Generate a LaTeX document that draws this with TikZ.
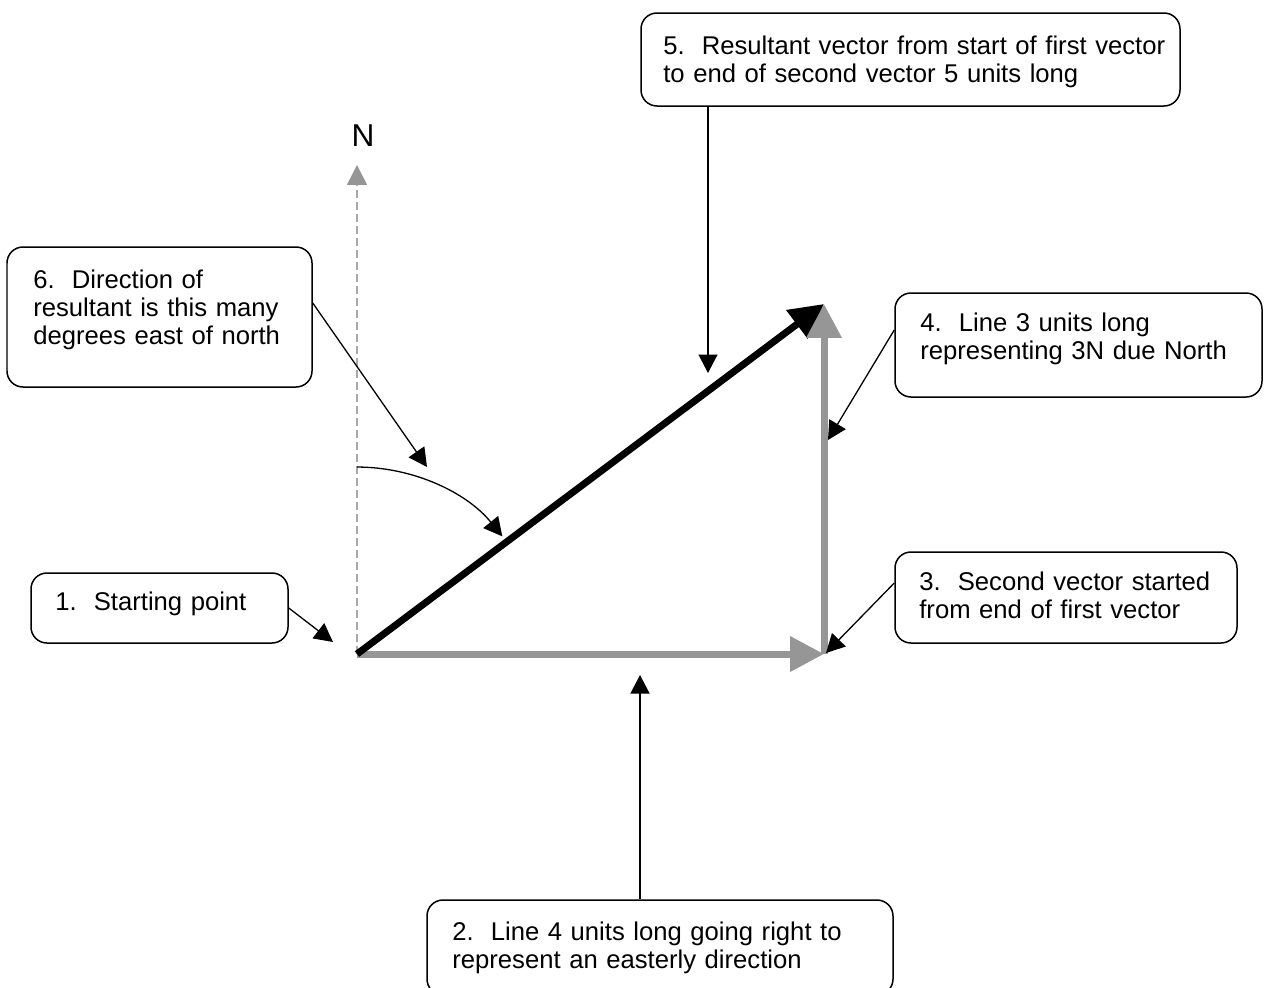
\documentclass[tikz,border=0pt]{standalone}
\usepackage{fontspec}
\setmainfont{Liberation Sans}
\usetikzlibrary{arrows.meta,fit}
\definecolor{vecgray}{RGB}{150,150,150}
\definecolor{axisgray}{RGB}{168,168,168}

\begin{document}
\begin{tikzpicture}[x=0.02cm,y=-0.02cm,
  callout/.style={draw=black, line width=0.03cm, rounded corners=0.32cm, inner sep=0pt},
  lbl/.style={font=\fontsize{14.6}{16.2}\selectfont, inner sep=0pt, text width=12cm, align=left, anchor=base west},
  conn/.style={draw=black, line width=0.026cm, -{Triangle[length=0.37cm,width=0.38cm]}},
  vec/.style={line width=0.14cm, -{Triangle[length=0.68cm,width=0.68cm]}},
]
\useasboundingbox (0,0) rectangle (1264,987);

% key points of the vector diagram
\coordinate (O) at (357,654);
\coordinate (E) at (824,654);
\coordinate (R) at (824,304);
\coordinate (Ntip) at (357,165);

% north reference line
\draw[axisgray, line width=0.03cm, dash pattern=on 0.16cm off 0.08cm,
      -{Triangle[length=0.4cm,width=0.4cm,color=vecgray]}] (O) -- (Ntip);
\node[font=\fontsize{18}{20}\selectfont, inner sep=0pt] (nlab) at (363,136) {N};

% vectors: east, resultant, north
\draw[vec, vecgray] (O) -- (E);
\draw[vec, black] (O) -- (R);
\draw[vec, vecgray] (E) -- (R);

% angle arc between north and the resultant
\draw[conn] ([yshift=3.74cm]O) arc[start angle=-90, end angle=-39, radius=187];

% callout boxes
\node[callout, fit={(31,573) (288,643)}] (b1) {};
\node[callout, fit={(427,900) (893,995)}] (b2) {};
\node[callout, fit={(895,552) (1237,643)}] (b3) {};
\node[callout, fit={(895,293) (1262,397)}] (b4) {};
\node[callout, fit={(641,13) (1180,106)}] (b5) {};
\node[callout, fit={(7,247) (312,387)}] (b6) {};

% callout texts
\node[lbl] (t1) at (55,610) {1.\ \ Starting point};
\node[lbl] (t2) at (452,940) {2.\ \ Line 4 units long going right to\\represent an easterly direction};
\node[lbl] (t3) at (919,590) {3.\ \ Second vector started\\from end of first vector};
\node[lbl] (t4) at (920,331) {4.\ \ Line 3 units long\\representing 3N due North};
\node[lbl] (t5) at (663,54) {5.\ \ Resultant vector from start of first vector\\to end of second vector 5 units long};
\node[lbl] (t6) at (33,288) {6.\ \ Direction of\\resultant is this many\\degrees east of north};

% pointer ends
\coordinate (p1) at (333,642);
\coordinate (p2) at (640,675);
\coordinate (p3) at (826,653);
\coordinate (p4) at (828,440);
\coordinate (p5) at (708,373);
\coordinate (p6) at (427,467);

% pointers from the callouts
\draw[conn] (b1.east) -- (p1);
\draw[conn] (p2 |- b2.north) -- (p2);
\draw[conn] ([yshift=0.29cm]b3.west) -- (p3);
\draw[conn] ([yshift=0.3cm]b4.west) -- (p4);
\draw[conn] (p5 |- b5.south) -- (p5);
\draw[conn] ([yshift=0.28cm]b6.east) -- (p6);
\end{tikzpicture}
\end{document}
